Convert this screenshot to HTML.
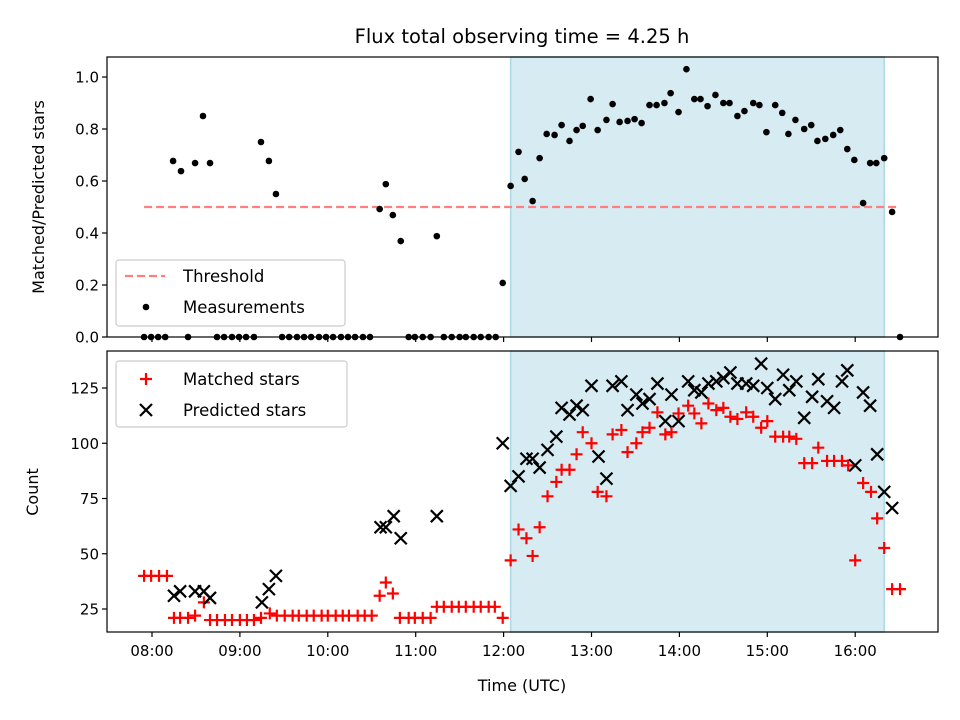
<!DOCTYPE html>
<html><head><meta charset="utf-8">
<style>
html,body{margin:0;padding:0;background:#fff;}
svg{display:block;font-family:"DejaVu Sans","Liberation Sans",sans-serif;}
</style></head>
<body>
<svg id="chart" width="960" height="720" viewBox="0 0 960 720"></svg>
<script>
// ---- data ----
const zeroTimes=[7.91,7.99,8.07,8.15,8.41,8.74,8.82,8.91,8.99,9.07,9.16,9.48,9.56,9.65,9.73,9.81,9.90,9.98,10.06,10.15,10.23,10.31,10.40,10.48,10.92,10.99,11.08,11.17,11.32,11.41,11.50,11.57,11.66,11.74,11.83,11.91,16.51];
const measTimes=[8.24,8.33,8.49,8.58,8.66,9.24,9.33,9.41,10.59,10.66,10.74,10.83,11.24,11.99,12.08,12.17,12.24,12.33,12.41,12.49,12.58,12.66,12.75,12.83,12.90,12.99,13.07,13.17,13.24,13.32,13.41,13.49,13.57,13.66,13.74,13.83,13.90,13.99,14.08,14.17,14.24,14.32,14.41,14.50,14.57,14.66,14.74,14.84,14.91,14.99,15.09,15.17,15.24,15.32,15.42,15.50,15.57,15.66,15.75,15.83,15.91,15.99,16.09,16.17,16.24,16.33,16.42];
const measValues=[0.677,0.638,0.669,0.85,0.669,0.75,0.677,0.55,0.492,0.588,0.469,0.369,0.388,0.208,0.581,0.712,0.608,0.523,0.688,0.781,0.777,0.815,0.754,0.796,0.812,0.915,0.796,0.835,0.896,0.827,0.831,0.838,0.823,0.892,0.892,0.9,0.938,0.865,1.03,0.915,0.915,0.888,0.931,0.9,0.9,0.85,0.869,0.9,0.892,0.788,0.892,0.862,0.781,0.835,0.8,0.815,0.754,0.762,0.777,0.796,0.723,0.681,0.515,0.669,0.669,0.688,0.481];
const threshold=0.5, thrStart=7.91, thrEnd=16.51;
const shadeStart=12.08, shadeEnd=16.33;

const matchedTimes=[7.91,7.99,8.08,8.17,8.25,8.32,8.41,8.49,8.59,8.66,8.74,8.83,8.91,9.00,9.08,9.16,9.24,9.34,9.42,9.51,9.60,9.67,9.76,9.84,9.93,10.00,10.09,10.17,10.24,10.34,10.42,10.50,10.59,10.66,10.74,10.82,10.92,10.99,11.08,11.17,11.24,11.32,11.41,11.49,11.57,11.66,11.74,11.83,11.90,11.99,12.08,12.17,12.26,12.33,12.41,12.50,12.60,12.66,12.75,12.83,12.90,13.00,13.07,13.17,13.24,13.34,13.41,13.51,13.58,13.66,13.75,13.84,13.91,13.99,14.10,14.17,14.25,14.33,14.42,14.50,14.58,14.66,14.76,14.84,14.93,15.00,15.09,15.18,15.25,15.33,15.42,15.51,15.58,15.68,15.76,15.85,15.92,16.00,16.09,16.18,16.25,16.33,16.42,16.51];
const matchedValues=[40,40,40,40,21,21,21,22,28,20,20,20,20,20,20,20,21,23,22,22,22,22,22,22,22,22,22,22,22,22,22,22,31,37,32,21,21,21,21,21,26,26,26,26,26,26,26,26,26,21,47,61,57,49,62,76,82.5,88,88,95,105,100,78,76,104,106,96,100,105,107,114,104,105,113.5,117,113.5,109,118,115,116,112,111,114,112,107,110,103,103,103,102,91,91,98,92,92,92,90,47,82,78,66,52.6,34,34];
const predTimes=[8.25,8.32,8.49,8.59,8.66,9.25,9.33,9.41,10.60,10.66,10.75,10.83,11.24,11.99,12.08,12.17,12.26,12.33,12.41,12.50,12.60,12.66,12.75,12.83,12.90,13.00,13.08,13.17,13.24,13.34,13.41,13.51,13.58,13.66,13.75,13.84,13.91,13.99,14.10,14.17,14.25,14.33,14.42,14.50,14.58,14.66,14.76,14.84,14.93,15.00,15.09,15.18,15.25,15.33,15.42,15.51,15.58,15.68,15.76,15.85,15.91,16.00,16.09,16.17,16.25,16.33,16.42];
const predValues=[31,33,33,33,30,28,34,40,62,62,67,57,67,100,80.7,85,93,93,89,97,103,116,113,117,115,126,94,84,126,128,115,122,118,120,127,110,122,110,128,124,123,127,128,129.5,132,127,127,126,136,125,120,131,124,128,111.5,121,129,119,116,128,133,90,123,117,95,78,70.7];

const xTickLabels=["08:00","09:00","10:00","11:00","12:00","13:00","14:00","15:00","16:00"];
const xTickHours=[8,9,10,11,12,13,14,15,16];
const topYTicks=[0,0.2,0.4,0.6,0.8,1.0];
const topYTickLabels=["0.0","0.2","0.4","0.6","0.8","1.0"];
const botYTicks=[25,50,75,100,125];

// ---- scales ----
const L=107,R=938, T1=57,B1=337, T2=351,B2=632;
const xs=h=>152+(h-8)*87.9;
const y1=v=>337-v*260;
const y2=v=>609-(v-25)*2.21;

const NS="http://www.w3.org/2000/svg";
const svg=document.getElementById('chart');
function mk(tag,attrs,parent){const e=document.createElementNS(NS,tag);for(const k in attrs)e.setAttribute(k,attrs[k]);(parent||svg).appendChild(e);return e;}
function txt(s,attrs,parent){const e=mk('text',attrs,parent);e.textContent=s;return e;}

const title=txt("Flux total observing time = 4.25 h",{x:522,y:43,'text-anchor':'middle','font-size':19.5,fill:'#000'});



function panel(T,B,name){
  const g=mk('g',{});
  
  
  const sh=mk('rect',{x:xs(shadeStart),y:T,width:xs(shadeEnd)-xs(shadeStart),height:B-T,fill:'#add8e6','fill-opacity':0.5,stroke:'#add8e6','stroke-width':1.5},g);
  
  
  return g;
}
function frame(T,B,g){
  const f=mk('rect',{x:L,y:T,width:R-L,height:B-T,fill:'none',stroke:'#000','stroke-width':1.2},g);
  
  
}
function plus(x,y,g){const p=mk('path',{d:`M${x-6},${y}H${x+6}M${x},${y-6}V${y+6}`,stroke:'#ff0000','stroke-width':2.2,fill:'none'},g);
  
  }
function cross(x,y,g){const p=mk('path',{d:`M${x-6},${y-6}L${x+6},${y+6}M${x-6},${y+6}L${x+6},${y-6}`,stroke:'#000','stroke-width':2.2,fill:'none'},g);
  
  }

// ---- top panel ----
const g1=panel(T1,B1,'ratio-panel');
const th=mk('line',{x1:xs(thrStart),x2:xs(thrEnd),y1:y1(threshold),y2:y1(threshold),stroke:'#ff7f7f','stroke-width':2.2,'stroke-dasharray':'8,4'},g1);


zeroTimes.forEach(t=>{const c=mk('circle',{cx:xs(t),cy:y1(0),r:3.3,fill:'#000'},g1);
  
  });
measTimes.forEach((t,i)=>{const c=mk('circle',{cx:xs(t),cy:y1(measValues[i]),r:3.3,fill:'#000'},g1);
  
  });
frame(T1,B1,g1);
topYTicks.forEach((v,i)=>{const y=y1(v);mk('line',{x1:L-5,x2:L,y1:y,y2:y,stroke:'#000','stroke-width':1.2},g1);
  const t=txt(topYTickLabels[i],{x:L-8,y:y+5.5,'text-anchor':'end','font-size':15},g1);
  
  });
xTickHours.forEach(h=>mk('line',{x1:xs(h),x2:xs(h),y1:B1,y2:B1+5,stroke:'#000','stroke-width':1.2},g1));
const yl1=txt("Matched/Predicted stars",{x:0,y:0,transform:`translate(44,197) rotate(-90)`,'text-anchor':'middle','font-size':16},g1);


const lg1=mk('g',{},g1);


mk('rect',{x:116,y:260,width:229,height:66,rx:3,fill:'#fff','fill-opacity':0.8,stroke:'#cccccc','stroke-width':1.2},lg1);
mk('line',{x1:125,x2:165,y1:276,y2:276,stroke:'#ff7f7f','stroke-width':2.2,'stroke-dasharray':'8,4'},lg1);
txt("Threshold",{x:183,y:282,'font-size':16.5},lg1);
mk('circle',{cx:146,cy:307,r:3.3,fill:'#000'},lg1);
txt("Measurements",{x:183,y:313,'font-size':16.5},lg1);

// ---- bottom panel ----
const g2=panel(T2,B2,'count-panel');
matchedTimes.forEach((t,i)=>plus(xs(t),y2(matchedValues[i]),g2));
predTimes.forEach((t,i)=>cross(xs(t),y2(predValues[i]),g2));
frame(T2,B2,g2);
botYTicks.forEach(v=>{const y=y2(v);mk('line',{x1:L-5,x2:L,y1:y,y2:y,stroke:'#000','stroke-width':1.2},g2);
  const t=txt(String(v),{x:L-8,y:y+5.5,'text-anchor':'end','font-size':15},g2);
  
  });
xTickHours.forEach((h,i)=>{mk('line',{x1:xs(h),x2:xs(h),y1:B2,y2:B2+5,stroke:'#000','stroke-width':1.2},g2);
  const t=txt(xTickLabels[i],{x:xs(h),y:B2+24,'text-anchor':'middle','font-size':15},g2);
  
  });
const yl2=txt("Count",{x:0,y:0,transform:`translate(38,492) rotate(-90)`,'text-anchor':'middle','font-size':16},g2);


const xl=txt("Time (UTC)",{x:522,y:691,'text-anchor':'middle','font-size':16},g2);


const lg2=mk('g',{},g2);


mk('rect',{x:116,y:361,width:231,height:66,rx:3,fill:'#fff','fill-opacity':0.8,stroke:'#cccccc','stroke-width':1.2},lg2);
plus(146,379,lg2);
txt("Matched stars",{x:183,y:385,'font-size':16.5},lg2);
cross(146,410,lg2);
txt("Predicted stars",{x:183,y:416,'font-size':16.5},lg2);
</script>
</body></html>
